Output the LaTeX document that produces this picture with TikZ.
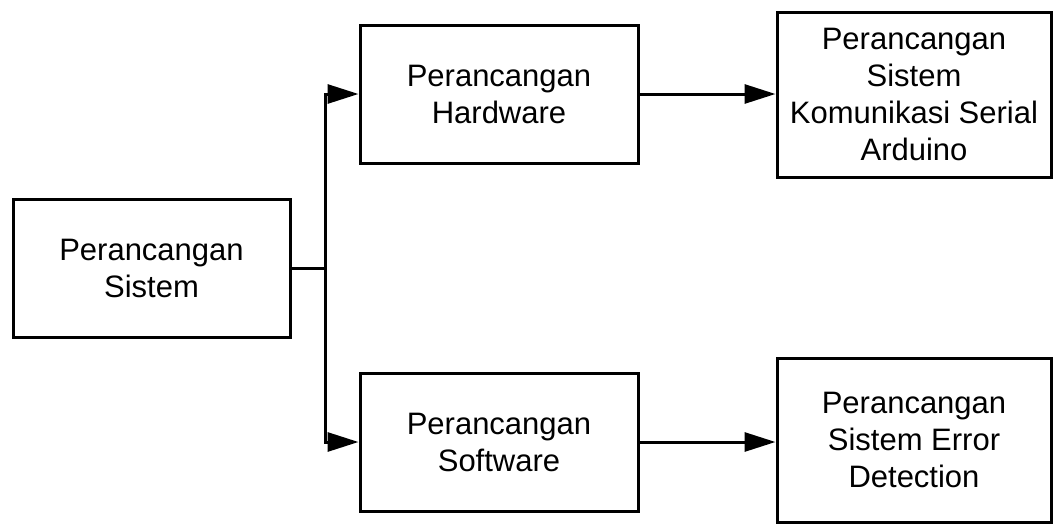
\documentclass[tikz,border=0pt]{standalone}
\usepackage{fontspec}
\setmainfont{Liberation Sans}
\usetikzlibrary{arrows.meta}
\begin{document}
\begin{tikzpicture}[x=1pt,y=-1pt,
  box/.style={draw=black,line width=3pt,inner sep=0pt,align=center,
    font=\fontsize{31}{37}\selectfont},
  conn/.style={line width=3pt,-{Triangle[length=31pt,width=19pt]}}]
\useasboundingbox (0,0) rectangle (1053,523);
\node[box,minimum width=277pt,minimum height=138pt] (sys) at (151.5,268) {Perancangan\\Sistem};
\node[box,minimum width=278pt,minimum height=138pt] (hw) at (499,94) {Perancangan\\Hardware};
\node[box,minimum width=278pt,minimum height=138pt] (sw) at (499,442) {Perancangan\\Software};
\node[box,minimum width=274pt,minimum height=165pt] (kom) at (914,94.5) {Perancangan\\Sistem\\Komunikasi Serial\\Arduino};
\node[box,minimum width=274pt,minimum height=164pt] (err) at (914,440) {Perancangan\\Sistem Error\\Detection};
\coordinate (j) at (325,268);
\draw[line width=3pt] (sys.east) -- (j);
\draw[conn] (j) |- (hw.west);
\draw[conn] (j) |- (sw.west);
\draw[conn] (hw.east) -- (hw.east -| kom.west);
\draw[conn] (sw.east) -- (sw.east -| err.west);
\end{tikzpicture}
\end{document}
